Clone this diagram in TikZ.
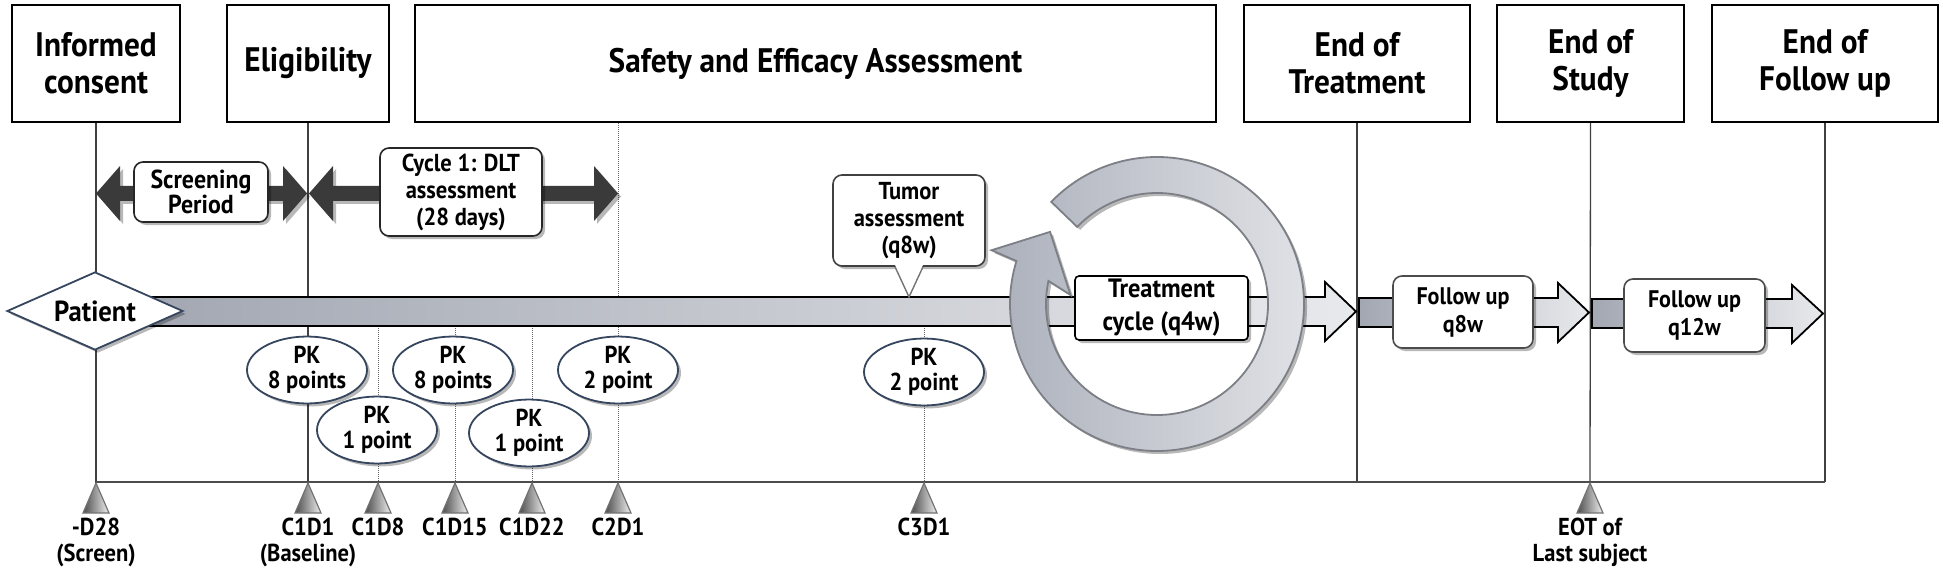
\documentclass[tikz,border=0pt]{standalone}
\usepackage{fontspec}
\setmainfont{PT Sans}[FakeStretch=0.92]
\usetikzlibrary{shapes.geometric,shadows}
\definecolor{darkarrow}{HTML}{3A3A3A}
\definecolor{bardark}{HTML}{A2A7B2}
\definecolor{barlight}{HTML}{E8E9EC}
\definecolor{navyedge}{HTML}{36465E}
\definecolor{ringdark}{HTML}{ABB0BB}
\definecolor{ringlight}{HTML}{E2E3E7}
\definecolor{ringedge}{HTML}{7C7F85}
\definecolor{pkouter}{HTML}{B9BEC8}
\pgfdeclareradialshading{pkshade}{\pgfpoint{0bp}{0bp}}{color(0bp)=(white); color(30bp)=(white); color(44bp)=(pkouter!70!white); color(50bp)=(pkouter)}
\newcommand\myfs[2]{\fontsize{#1}{#2}\selectfont\bfseries}
\begin{document}
\begin{tikzpicture}[x=1pt,y=-1pt,
  topbox/.style={draw=black, line width=2.4pt, fill=white, font=\myfs{34}{37}, align=center, inner sep=0pt, minimum height=117pt},
  vline/.style={draw=black!75, line width=1.3pt},
  dline/.style={draw=black!60, line width=1pt, densely dotted},
  softshadow/.style={drop shadow={shadow xshift=3pt, shadow yshift=-3pt, opacity=0.28, fill=black}},
  lblbox/.style={draw=black!85, line width=1.6pt, fill=white, rounded corners=9pt, align=center, inner sep=0pt, softshadow},
  pk/.style={ellipse, draw=navyedge, line width=1.8pt, shading=pkshade, minimum width=120pt, minimum height=58pt, inner sep=0pt, align=center, font=\myfs{24.5}{25}, softshadow},
  tri/.style={draw=black!55, line width=1.2pt, line join=miter, left color=black!70, right color=black!6},
  lbl/.style={align=center, font=\myfs{24.5}{26}, inner sep=0pt},
  dblarrow/.style={fill=darkarrow, softshadow},
  bigbar/.style={left color=bardark, right color=barlight, draw=black, line width=1.8pt, line join=miter},
  ringstyle/.style={left color=ringdark, right color=ringlight, draw=ringedge, line width=1.8pt, line join=miter, softshadow}
]
\useasboundingbox (0,0) rectangle (1943,572);

% ---------- top boxes ----------
\node[topbox, minimum width=168pt] (ic) at (96,63.5) {Informed\\consent};
\node[topbox, minimum width=162pt] (elig) at (308,63.5) {Eligibility};
\node[topbox, minimum width=801pt] (safety) at (815.5,63.5) {Safety and Efficacy Assessment};
\node[topbox, minimum width=226pt] (eot) at (1357,63.5) {End of\\Treatment};
\node[topbox, minimum width=187pt] (eos) at (1590.5,63.5) {End of\\Study};
\node[topbox, minimum width=226pt] (eofu) at (1825,63.5) {End of\\Follow up};

% ---------- timeline points ----------
\coordinate (aD28) at (96,483);
\coordinate (aC1D1) at (308,483);
\coordinate (aC1D8) at (378,483);
\coordinate (aC1D15) at (455,483);
\coordinate (aC1D22) at (532,483);
\coordinate (aC2D1) at (618,483);
\coordinate (aC3D1) at (924,483);
\coordinate (aEOT) at (1590,483);
\coordinate (eotb) at (1357,482);
\coordinate (eofub) at (1825,482);

% ---------- vertical and bottom lines ----------
\draw[vline] (ic.south) -- (aD28);
\draw[vline] (elig.south) -- (aC1D1);
\draw[dline] (safety.south -| aC2D1) -- (aC2D1);
\draw[dline] (aC1D8) -- ++(0,-157);
\draw[dline] (aC1D15) -- ++(0,-157);
\draw[dline] (aC1D22) -- ++(0,-157);
\draw[dline] (aC3D1) -- ++(0,-157);
\draw[vline] (eot.south) -- (eotb);
\draw[vline] (eos.south) -- (aEOT);
\draw[vline] (eofu.south) -- (eofub);
\draw[draw=black!70, line width=1.6pt] (96,482) -- (eofub);

% ---------- triangles ----------
\foreach \p in {aD28,aC1D1,aC1D8,aC1D15,aC1D22,aC2D1,aC3D1,aEOT}
  \shadedraw[tri] (\p) -- ++(13,30) -- ++(-26,0) -- cycle;

% ---------- double arrows ----------
\path[dblarrow] (96,193.5) -- (120,166) -- (120,186) -- (283,186) -- (283,166) -- (307,193.5)
  -- (283,221) -- (283,201) -- (120,201) -- (120,221) -- cycle;
\path[dblarrow] (309,193.5) -- (333,166) -- (333,186) -- (594,186) -- (594,166) -- (618,193.5)
  -- (594,221) -- (594,201) -- (333,201) -- (333,221) -- cycle;
\node[lblbox, minimum width=134pt, minimum height=60pt, font=\myfs{26}{25}] (scr) at (201,192) {Screening\\Period};
\node[lblbox, minimum width=162pt, minimum height=88pt, font=\myfs{24.5}{27}] (cyc) at (461,192) {Cycle 1: DLT\\assessment\\(28 days)};

% ---------- main bars ----------
\shadedraw[bigbar] (140,297) -- (1325,297) -- (1325,282) -- (1356,311.5) -- (1325,341) -- (1325,326) -- (140,326) -- cycle;
\shadedraw[bigbar] (1359,298) -- (1558,298) -- (1558,283) -- (1589,312.5) -- (1558,342) -- (1558,327) -- (1359,327) -- cycle;
\shadedraw[bigbar] (1592,299) -- (1792,299) -- (1792,285) -- (1823,313.5) -- (1792,343) -- (1792,328) -- (1592,328) -- cycle;

% ---------- tumor callout ----------
\node[lblbox, draw=black!75, minimum width=152pt, minimum height=91pt, font=\myfs{24.5}{27}] (tumor) at (909,220.5) {Tumor\\assessment\\(q8w)};
\coordinate (tumortip) at (909,297);
\fill[white] ([xshift=-14pt,yshift=2pt]tumor.south) -- (tumortip) -- ([xshift=14pt,yshift=2pt]tumor.south) -- cycle;
\draw[black!55, line width=1.4pt, line join=miter] ([xshift=-14pt]tumor.south) -- (tumortip) -- ([xshift=14pt]tumor.south);

% ---------- treatment cycle ring ----------
\begin{scope}[shift={(1157,304)}, yscale=-1]
\shadedraw[ringstyle] (136:147) arc[start angle=136, end angle=-197, radius=147]
  -- (162:174) -- (146:129) -- (174:87) -- (168:111)
  arc[start angle=-192, end angle=136, radius=111] -- cycle;
\end{scope}
\node[lblbox, draw=black, rounded corners=4pt, minimum width=173pt, minimum height=64pt, font=\myfs{26.5}{33}] (treat) at (1161.5,308) {Treatment\\cycle (q4w)};

% ---------- follow up boxes ----------
\node[lblbox, draw=black!70, minimum width=140pt, minimum height=72pt, font=\myfs{24}{28}] (fu1) at (1463,312) {Follow up\\q8w};
\node[lblbox, draw=black!70, minimum width=141pt, minimum height=73pt, font=\myfs{24}{28}] (fu2) at (1694.5,315.5) {Follow up\\q12w};

% ---------- patient ----------
\node[diamond, draw=navyedge, line width=1.8pt, fill=white, minimum width=176pt, minimum height=78pt, aspect=2.26, inner sep=0pt, font=\myfs{29}{30}, softshadow] (patient) at (95,311) {Patient};

% ---------- PK ellipses ----------
\node[pk] (pk1) at (307,370) {PK\\8 points};
\node[pk] (pk2) at (377,430) {PK\\1 point};
\node[pk] (pk3) at (453,370) {PK\\8 points};
\node[pk] (pk4) at (529,433) {PK\\1 point};
\node[pk] (pk5) at (618,370) {PK\\2 point};
\node[pk] (pk6) at (924,372) {PK\\2 point};

% ---------- bottom labels ----------
\node[lbl, anchor=north] (lD28) at ([yshift=-35pt]aD28) {-D28\\(Screen)};
\node[lbl, anchor=north] (lC1D1) at ([yshift=-35pt]aC1D1) {C1D1\\(Baseline)};
\node[lbl, anchor=north] (lC1D8) at ([yshift=-35pt]aC1D8) {C1D8};
\node[lbl, anchor=north] (lC1D15) at ([yshift=-35pt]aC1D15) {C1D15};
\node[lbl, anchor=north] (lC1D22) at ([yshift=-35pt]aC1D22) {C1D22};
\node[lbl, anchor=north] (lC2D1) at ([yshift=-35pt]aC2D1) {C2D1};
\node[lbl, anchor=north] (lC3D1) at ([yshift=-35pt]aC3D1) {C3D1};
\node[lbl, anchor=north] (lEOT) at ([yshift=-35pt]aEOT) {EOT of\\Last subject};
\end{tikzpicture}
\end{document}
